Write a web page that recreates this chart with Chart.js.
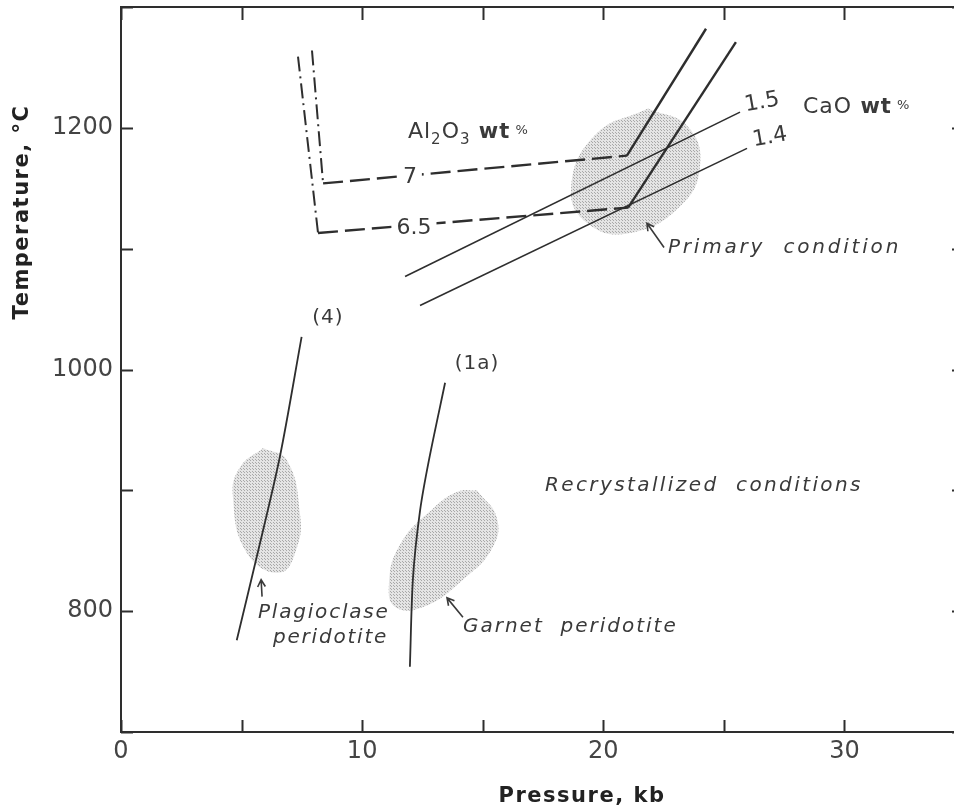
<!DOCTYPE html>
<html>
<head>
<meta charset="utf-8">
<script src="https://cdn.jsdelivr.net/npm/chart.js@4"></script>
<style>
  html, body { margin: 0; padding: 0; background: #fff; overflow: hidden; }
  #wrap { width: 990px; height: 807px; }
</style>
</head>
<body>
<div id="wrap"><canvas id="ptChart" width="990" height="807"></canvas></div>
<script>
// Pressure (kb) and temperature (°C)

// Al2O3 isopleths, 7 wt%
const al7VertP = [7.92, 8.38];
const al7VertT = [1264, 1154];
const al7FlatP = [8.38, 20.98];
const al7FlatT = [1154, 1177];
const al7SteepP = [20.98, 24.26];
const al7SteepT = [1177, 1282];

// Al2O3 isopleths, 6.5 wt%
const al65VertP = [7.34, 8.17];
const al65VertT = [1259, 1113];
const al65FlatP = [8.17, 21.03];
const al65FlatT = [1113, 1134];
const al65SteepP = [21.03, 25.50];
const al65SteepT = [1134, 1271];

// CaO isopleths
const ca15P = [11.78, 25.67];
const ca15T = [1077, 1213];
const ca14P = [12.40, 25.96];
const ca14T = [1053, 1183];

// geotherms (4) and (1a)
const curve4P = [4.80, 5.63, 6.59, 7.49];
const curve4T = [776, 845, 928, 1027];
const curve1aP = [11.98, 12.11, 12.40, 12.77, 13.44];
const curve1aT = [754, 828, 883, 925, 989];

// outlines of the shaded P-T fields
const primaryP = [21.85, 23.51, 24.01, 23.18, 21.11, 19.41, 18.66, 19.66];
const primaryT = [1216, 1201, 1168, 1135, 1113, 1120, 1149, 1194];
const plagP = [5.89, 6.88, 7.42, 7.30, 6.59, 5.23, 4.64, 4.93];
const plagT = [935, 925, 881, 853, 832, 848, 895, 919];
const garnetP = [14.76, 15.59, 15.39, 14.18, 12.61, 11.40, 11.11, 11.57, 12.94, 13.98];
const garnetT = [900, 877, 852, 826, 804, 803, 822, 855, 885, 899];

// labelled ticks
const pressureLabels = [0, 10, 20, 30];
const tempLabels = [800, 1000, 1200];

const pts = (P, T) => P.map((p, i) => ({ x: p, y: T[i] }));
const ring = (P, T) => { const r = pts(P, T); r.push(r[0]); return r; };

const INK = '#2e2e2e';
const TXT = '#3a3a3a';

function stipple() {
  const c = document.createElement('canvas');
  c.width = 3; c.height = 3;
  const g = c.getContext('2d');
  g.fillStyle = '#e4e4e4';
  g.fillRect(0, 0, 3, 3);
  g.fillStyle = '#a8a8a8';
  g.fillRect(1, 1, 1, 1);
  g.fillRect(0, 0, 1, 1);
  return g.createPattern(c, 'repeat');
}
const dots = stipple();

const field = (P, T) => ({
  data: ring(P, T), fill: 'shape', backgroundColor: dots, borderWidth: 0,
  pointRadius: 0, tension: 0.45, order: 2
});
const line = (P, T, w, dash, tension) => ({
  data: pts(P, T), borderColor: INK, borderWidth: w, borderDash: dash || [],
  pointRadius: 0, fill: false, tension: tension || 0, order: 1
});

const DASH = [20, 7];
const DASHDOT = [15, 5, 2, 5];

// text notes in data coordinates
const notes = [
  { text: '7', p: 11.98, t: 1159, font: '22px "DejaVu Sans"', align: 'center', bg: true },
  { text: '6.5', p: 12.15, t: 1117, font: '22px "DejaVu Sans"', align: 'center', bg: true },
  { text: '1.5', p: 26.58, t: 1221, font: '22px "DejaVu Sans"', align: 'center', rot: -10 },
  { text: '1.4', p: 26.91, t: 1192, font: '22px "DejaVu Sans"', align: 'center', rot: -10 },
  { text: '(4)', p: 8.58, t: 1043, font: '20px "DejaVu Sans"', align: 'center', spacing: '1px' },
  { text: '(1a)', p: 14.76, t: 1005, font: '20px "DejaVu Sans"', align: 'center', spacing: '1px' },
  { text: 'Primary  condition', p: 22.68, t: 1101, font: 'oblique 20px "DejaVu Sans"', align: 'left', spacing: '2.8px' },
  { text: 'Recrystallized  conditions', p: 17.58, t: 904, font: 'oblique 20px "DejaVu Sans"', align: 'left', spacing: '2.4px' },
  { text: 'Plagioclase', p: 5.68, t: 799, font: 'oblique 20px "DejaVu Sans"', align: 'left', spacing: '1.8px' },
  { text: 'peridotite', p: 6.30, t: 778, font: 'oblique 20px "DejaVu Sans"', align: 'left', spacing: '1.8px' },
  { text: 'Garnet  peridotite', p: 14.18, t: 787, font: 'oblique 20px "DejaVu Sans"', align: 'left', spacing: '2px' }
];

// pointer arrows: tail -> tip
const arrows = [
  { from: [22.52, 1101], to: [21.81, 1121] },
  { from: [5.85, 812], to: [5.81, 826] },
  { from: [14.18, 795], to: [13.52, 811] }
];

const overlay = {
  id: 'overlay',
  afterDatasetsDraw(chart) {
    const { ctx, chartArea: a, scales: { x, y } } = chart;
    ctx.save();

    // frame and inward ticks
    ctx.strokeStyle = INK;
    ctx.lineWidth = 2;
    ctx.strokeRect(a.left, a.top, a.right - a.left, a.bottom - a.top);
    ctx.beginPath();
    x.ticks.forEach(tk => {
      const px = Math.round(x.getPixelForValue(tk.value)) + 0.5;
      ctx.moveTo(px, a.bottom); ctx.lineTo(px, a.bottom - 12);
      ctx.moveTo(px, a.top); ctx.lineTo(px, a.top + 13);
    });
    y.ticks.forEach(tk => {
      const py = Math.round(y.getPixelForValue(tk.value)) + 0.5;
      ctx.moveTo(a.left, py); ctx.lineTo(a.left + 12, py);
      ctx.moveTo(a.right, py); ctx.lineTo(a.right - 13, py);
    });
    ctx.stroke();

    // notes
    ctx.fillStyle = TXT;
    ctx.textBaseline = 'middle';
    notes.forEach(n => {
      const px = x.getPixelForValue(n.p), py = y.getPixelForValue(n.t);
      ctx.save();
      ctx.font = n.font;
      ctx.letterSpacing = n.spacing || '0px';
      ctx.textAlign = n.align;
      ctx.translate(px, py);
      if (n.rot) ctx.rotate(n.rot * Math.PI / 180);
      if (n.bg) {
        const w = ctx.measureText(n.text).width;
        ctx.fillStyle = '#fff';
        ctx.fillRect(-w / 2 - 5, -10, w + 10, 20);
        ctx.fillStyle = TXT;
      }
      ctx.fillText(n.text, 0, 0);
      ctx.restore();
    });

    // Al2O3 wt% with subscripts
    const rich = (parts, px, py) => {
      let cx = px;
      parts.forEach(([s, size, dy, weight]) => {
        ctx.font = (weight || '') + ' ' + size + 'px "DejaVu Sans"';
        ctx.letterSpacing = '1px';
        ctx.fillText(s, cx, py + dy);
        cx += ctx.measureText(s).width;
      });
    };
    ctx.textAlign = 'left';
    ctx.textBaseline = 'alphabetic';
    rich([['Al', 22, 0], ['2', 15, 6], ['O', 22, 0], ['3', 15, 6], [' wt', 21, 0, 'bold'], [' %', 13, -4]],
      x.getPixelForValue(11.90), y.getPixelForValue(1192));
    rich([['CaO', 22, 0], [' wt', 21, 0, 'bold'], [' %', 13, -4]],
      x.getPixelForValue(28.28), y.getPixelForValue(1212));

    // arrows
    ctx.strokeStyle = TXT;
    ctx.lineWidth = 1.6;
    arrows.forEach(ar => {
      const x0 = x.getPixelForValue(ar.from[0]), y0 = y.getPixelForValue(ar.from[1]);
      const x1 = x.getPixelForValue(ar.to[0]), y1 = y.getPixelForValue(ar.to[1]);
      const ang = Math.atan2(y1 - y0, x1 - x0);
      ctx.beginPath();
      ctx.moveTo(x0, y0); ctx.lineTo(x1, y1);
      ctx.moveTo(x1 - 8 * Math.cos(ang - 0.5), y1 - 8 * Math.sin(ang - 0.5));
      ctx.lineTo(x1, y1);
      ctx.lineTo(x1 - 8 * Math.cos(ang + 0.5), y1 - 8 * Math.sin(ang + 0.5));
      ctx.stroke();
    });

    // axis titles
    ctx.fillStyle = '#222';
    ctx.font = 'bold 21px "DejaVu Sans"';
    ctx.letterSpacing = '1.5px';
    ctx.textAlign = 'center';
    ctx.textBaseline = 'middle';
    ctx.fillText('Pressure, kb', 582, 797);
    ctx.save();
    ctx.translate(23, 212);
    ctx.rotate(-Math.PI / 2);
    ctx.fillText('Temperature, °C', 0, 0);
    ctx.restore();

    ctx.restore();
  }
};

new Chart(document.getElementById('ptChart'), {
  type: 'line',
  data: {
    datasets: [
      field(primaryP, primaryT),
      field(plagP, plagT),
      field(garnetP, garnetT),
      line(al7VertP, al7VertT, 2, DASHDOT),
      line(al7FlatP, al7FlatT, 2.4, DASH),
      line(al7SteepP, al7SteepT, 2.4),
      line(al65VertP, al65VertT, 2, DASHDOT),
      line(al65FlatP, al65FlatT, 2.4, DASH),
      line(al65SteepP, al65SteepT, 2.4),
      line(ca15P, ca15T, 1.6),
      line(ca14P, ca14T, 1.6),
      line(curve4P, curve4T, 1.8, null, 0.3),
      line(curve1aP, curve1aT, 1.8, null, 0.3)
    ]
  },
  options: {
    responsive: false,
    animation: false,
    layout: { padding: { left: 0, top: 7, right: 25, bottom: 0 } },
    plugins: { legend: { display: false }, tooltip: { enabled: false } },
    scales: {
      x: {
        type: 'linear', min: 0, max: 35,
        grid: { display: false, drawTicks: false },
        border: { display: false },
        ticks: {
          stepSize: 5, autoSkip: false, maxRotation: 0, padding: 5,
          color: '#444', font: { family: 'DejaVu Sans', size: 24 },
          callback: v => pressureLabels.includes(v) ? String(v) : ''
        },
        afterFit(s) { s.height = 75; s.paddingLeft = 0; s.paddingRight = 0; }
      },
      y: {
        type: 'linear', min: 700, max: 1300,
        grid: { display: false, drawTicks: false },
        border: { display: false },
        ticks: {
          stepSize: 100, autoSkip: false, padding: 8,
          color: '#444', font: { family: 'DejaVu Sans', size: 24 },
          callback: v => tempLabels.includes(v) ? String(v) : ''
        },
        afterFit(s) { s.width = 121; s.paddingTop = 0; s.paddingBottom = 0; }
      }
    }
  },
  plugins: [overlay]
});
</script>
</body>
</html>
